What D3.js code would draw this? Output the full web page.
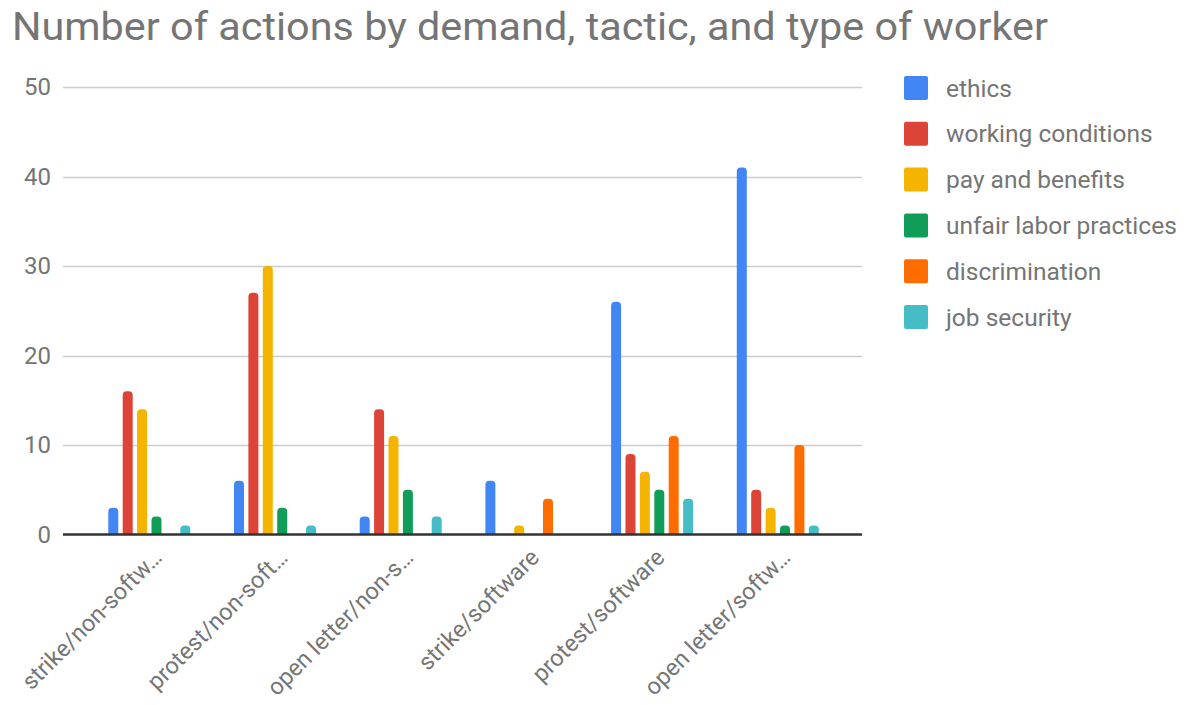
<!DOCTYPE html>
<html>
<head>
<meta charset="utf-8">
<script src="https://cdn.jsdelivr.net/npm/d3@7"></script>
<style>
  body { margin: 0; background: #fff; }
  text { font-family: Roboto, "Noto Sans", sans-serif; fill: #757575; }
</style>
</head>
<body>
<div id="chart"></div>
<script>
// data
var categories = ["strike/non-softw\u2026", "protest/non-soft\u2026", "open letter/non-s\u2026",
                  "strike/software", "protest/software", "open letter/softw\u2026"];
var series = ["ethics", "working conditions", "pay and benefits",
              "unfair labor practices", "discrimination", "job security"];
var ethics = [3, 6, 2, 6, 26, 41];
var workingConditions = [16, 27, 14, 0, 9, 5];
var payAndBenefits = [14, 30, 11, 1, 7, 3];
var unfairLabor = [2, 3, 5, 0, 5, 1];
var discrimination = [0, 0, 0, 4, 11, 10];
var jobSecurity = [1, 1, 2, 0, 4, 1];
var yTicks = [0, 10, 20, 30, 40, 50];
var colors = ["#4285f4", "#db4437", "#f4b400", "#0f9d58", "#ff6d00", "#46bdc6"];

var seriesValues = [ethics, workingConditions, payAndBenefits, unfairLabor, discrimination, jobSecurity];

var width = 1188, height = 705;
var plot = {left: 63, right: 862, top: 87, bottom: 534.5};

var svg = d3.select("#chart").append("svg")
    .attr("width", width)
    .attr("height", height);

// title
svg.append("text")
    .attr("x", 12)
    .attr("y", 40)
    .attr("textLength", 1036)
    .attr("lengthAdjust", "spacingAndGlyphs")
    .style("font-size", "39px")
    .text("Number of actions by demand, tactic, and type of worker");

var y = d3.scaleLinear()
    .domain([0, 50])
    .range([plot.bottom, plot.top]);

var x0 = d3.scaleBand()
    .domain(categories)
    .range([86.5, 86.5 + 6 * 125.7]);

var x1 = d3.scaleBand()
    .domain(series)
    .range([21.8, 103.8])
    .paddingInner(0.306);

// gridlines
svg.append("g").selectAll("line")
    .data(yTicks.filter(function(d) { return d > 0; }))
    .enter().append("line")
    .attr("x1", plot.left)
    .attr("x2", plot.right)
    .attr("y1", function(d) { return Math.round(y(d)) + 0.5; })
    .attr("y2", function(d) { return Math.round(y(d)) + 0.5; })
    .attr("stroke", "#cccccc")
    .attr("stroke-width", 1.5);

// y tick labels
svg.append("g").selectAll("text")
    .data(yTicks)
    .enter().append("text")
    .attr("x", 51)
    .attr("y", function(d) { return y(d); })
    .attr("dy", "0.35em")
    .attr("text-anchor", "end")
    .style("font-size", "24px")
    .text(function(d) { return d; });

// bars with rounded tops
function barPath(x, w, y0, y1, r) {
    var h = y0 - y1;
    if (h <= 0) return "";
    r = Math.min(r, h, w / 2);
    return "M" + x + "," + y0 +
        "V" + (y1 + r) +
        "Q" + x + "," + y1 + " " + (x + r) + "," + y1 +
        "H" + (x + w - r) +
        "Q" + (x + w) + "," + y1 + " " + (x + w) + "," + (y1 + r) +
        "V" + y0 + "Z";
}

var groups = svg.append("g").selectAll("g")
    .data(categories)
    .enter().append("g")
    .attr("transform", function(d) { return "translate(" + x0(d) + ",0)"; });

groups.selectAll("path")
    .data(function(d, i) {
        return series.map(function(s, j) { return {key: s, value: seriesValues[j][i], color: colors[j]}; });
    })
    .enter().append("path")
    .attr("d", function(d) { return barPath(x1(d.key), x1.bandwidth(), y(0), y(d.value), 4); })
    .attr("fill", function(d) { return d.color; });

// baseline
svg.append("line")
    .attr("x1", plot.left)
    .attr("x2", plot.right)
    .attr("y1", y(0))
    .attr("y2", y(0))
    .attr("stroke", "#333333")
    .attr("stroke-width", 2.5);

// x labels, slanted
svg.append("g").selectAll("text")
    .data(categories)
    .enter().append("text")
    .attr("text-anchor", "end")
    .attr("transform", function(d) {
        var cx = x0(d) + x0.bandwidth() / 2 + 14;
        return "translate(" + cx + ",559) rotate(-45)";
    })
    .style("font-size", "23.5px")
    .text(function(d) { return d; });

// legend
var legend = svg.append("g").selectAll("g")
    .data(series)
    .enter().append("g")
    .attr("transform", function(d, i) { return "translate(904," + (76 + i * 45.8) + ")"; });

legend.append("rect")
    .attr("width", 24)
    .attr("height", 24)
    .attr("rx", 2)
    .attr("fill", function(d, i) { return colors[i]; });

legend.append("text")
    .attr("x", 42)
    .attr("y", 12)
    .attr("dy", "0.35em")
    .style("font-size", "24.5px")
    .text(function(d) { return d; });
</script>
</body>
</html>
